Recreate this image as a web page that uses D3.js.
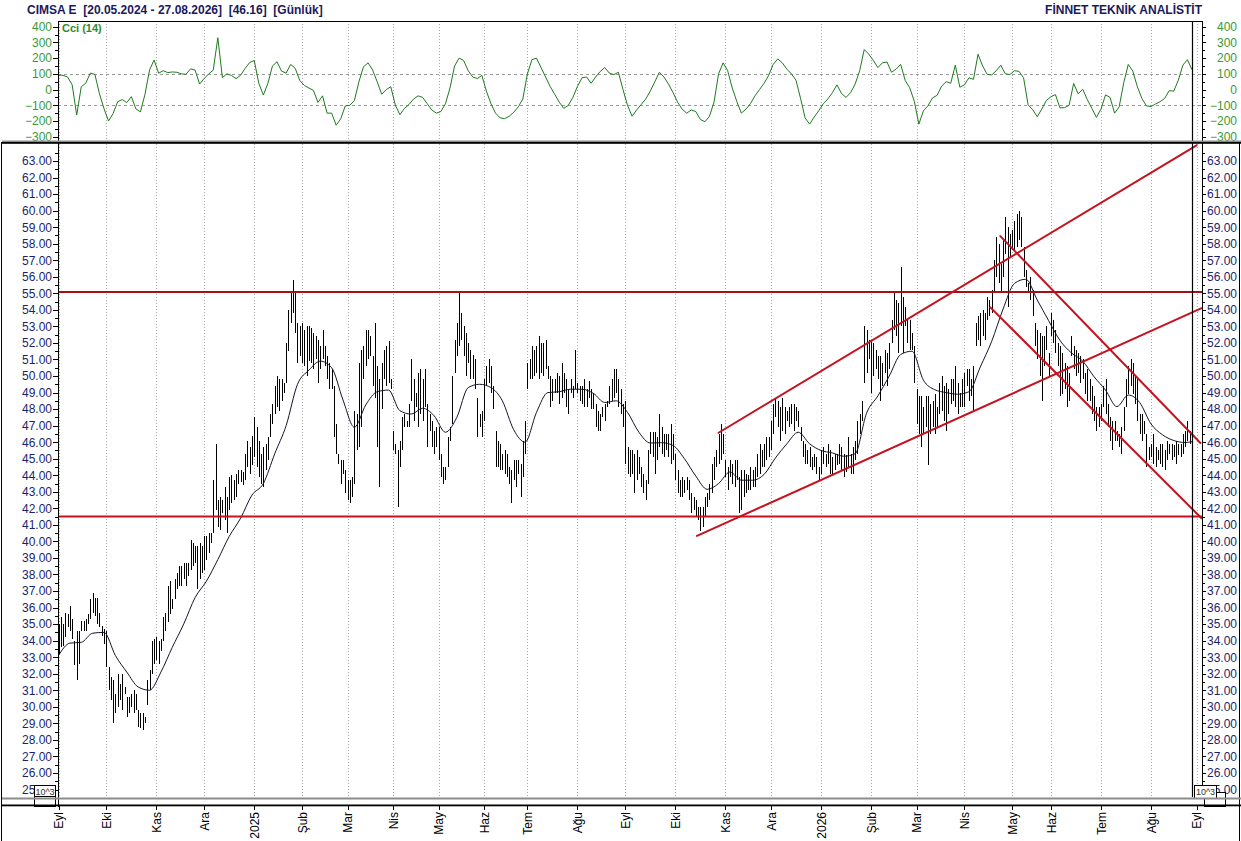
<!DOCTYPE html>
<html>
<head>
<meta charset="utf-8">
<script src="https://cdn.jsdelivr.net/npm/d3@7"></script>
<style>
  html, body { margin: 0; padding: 0; background: #fff; }
  svg { display: block; font-family: "Liberation Sans", Arial, sans-serif; }
</style>
</head>
<body>
<div id="chart"></div>
<script>
// ---- data ----
const title = "CIMSA E  [20.05.2024 - 27.08.2026]  [46.16]  [Günlük]";
const vendor = "FİNNET TEKNİK ANALİSTİT";

// month labels and the bar index where each month starts
const monthLabels = ["Eyl","Eki","Kas","Ara","2025","Şub","Mar","Nis","May","Haz","Tem","Ağu",
                     "Eyl","Eki","Kas","Ara","2026","Şub","Mar","Nis","May","Haz","Tem","Ağu","Eyl"];
const monthStarts = [0, 21, 43, 64, 86, 107, 127, 147, 167, 187, 206, 228,
                     249, 271, 293, 313, 335, 357, 377, 398, 419, 436, 458, 480, 500];

// daily highs, one line per month
const highs = [
  35.0,35.4,35.0,35.7,35.6,36.1,35.3,34.0,34.6,34.6,35.2,35.2,35.3,35.6,36.5,36.9,36.6,36.6,35.7,34.9,34.7,
  34.6,32.4,31.8,31.6,30.8,32.0,31.4,32.0,31.2,30.6,30.6,30.8,31.0,30.8,29.8,29.6,29.6,29.4,31.6,32.2,34.0,34.1,
  34.2,34.0,34.1,35.4,35.7,37.3,37.6,36.5,37.7,38.1,38.5,38.5,38.7,38.7,38.7,40.1,39.9,39.7,39.7,39.9,39.7,
  40.3,40.3,40.5,40.5,43.7,45.9,42.5,42.7,42.5,43.3,42.7,43.9,44.0,43.7,44.1,44.3,44.3,44.2,45.3,46.1,45.7,46.4,
  47.5,46.9,46.1,45.3,45.7,45.9,46.3,47.7,48.3,49.4,50.0,49.8,49.8,49.6,52.0,54.0,55.1,55.8,55.0,53.2,53.0,
  53.2,52.8,53.0,53.0,52.9,52.6,52.4,52.2,51.8,52.8,51.8,51.2,50.8,50.4,49.4,47.1,45.3,44.9,44.9,44.3,
  43.7,43.7,43.9,47.9,47.7,50.8,51.6,51.8,52.8,52.8,52.4,51.2,53.2,50.6,49.8,50.8,51.6,51.8,52.1,49.8,
  46.7,45.9,45.5,46.1,47.5,47.7,47.3,48.3,51.0,49.8,49.0,50.2,50.4,49.8,50.4,48.3,47.7,47.3,46.7,46.9,
  46.9,45.3,44.5,44.5,46.3,46.9,50.0,52.2,53.2,55.0,53.8,53.0,52.6,52.0,51.6,51.3,51.0,48.7,47.7,47.9,
  49.8,50.6,51.0,50.6,49.4,46.7,46.1,45.9,45.3,45.5,45.3,44.5,44.3,44.9,44.9,44.9,44.7,46.1,47.3,
  50.8,51.0,51.8,51.6,51.8,52.4,52.0,52.0,52.2,50.6,50.0,49.8,49.8,50.2,50.0,50.8,50.2,49.8,49.2,49.8,49.4,51.6,
  49.6,49.4,49.4,49.8,49.2,49.7,49.2,49.0,48.3,47.9,47.7,48.1,48.3,48.5,49.4,49.8,50.4,50.4,49.8,49.2,48.3,
  48.5,45.7,45.5,45.5,45.3,45.5,45.1,44.5,44.1,43.7,45.5,46.6,46.6,46.6,46.3,47.7,46.9,46.5,46.5,46.5,47.1,46.5,
  45.3,44.3,43.7,43.9,43.7,43.9,43.7,42.9,42.7,42.5,42.1,42.1,42.1,42.7,42.9,43.5,44.7,45.1,45.5,46.5,47.1,46.5,
  44.9,44.5,44.9,44.7,44.9,44.9,43.9,44.3,44.3,44.1,44.0,44.5,44.3,44.5,45.3,45.9,45.5,45.9,46.3,46.3,
  47.3,48.3,48.7,48.5,48.1,48.7,48.1,47.9,48.1,48.3,48.3,48.1,47.9,46.9,46.1,45.9,45.5,45.7,45.1,45.3,45.1,44.5,
  45.5,45.7,45.3,45.9,45.5,45.1,45.3,45.3,45.9,45.7,45.3,45.2,46.3,45.3,45.7,46.1,47.3,47.7,48.5,53.0,52.8,52.2,
  52.2,52.0,51.6,51.2,51.2,50.8,51.6,51.4,52.0,53.4,55.0,54.6,54.4,56.6,54.8,54.2,53.4,53.4,52.6,51.8,
  49.2,48.8,48.8,48.1,48.8,48.8,48.3,48.5,48.9,48.1,49.6,50.0,49.4,49.6,49.2,49.8,49.8,50.6,49.6,49.0,49.8,
  50.2,50.4,50.4,49.8,50.6,53.2,53.6,53.8,54.0,53.8,54.8,54.6,55.2,57.0,58.4,58.0,56.8,58.2,59.6,59.0,58.6,
  58.8,59.4,59.8,60.0,59.6,57.8,56.4,55.6,56.0,55.2,53.2,52.8,52.6,52.4,52.4,53.0,51.4,
  53.8,53.4,52.8,52.0,51.8,51.4,50.8,50.6,50.2,52.4,51.8,51.6,51.4,51.2,51.0,50.2,50.4,49.8,49.4,48.8,48.1,48.1,
  48.3,49.4,49.8,48.3,47.5,47.3,47.3,46.7,46.5,46.9,48.1,49.8,50.6,51.0,50.8,50.0,49.8,47.7,47.7,47.3,46.5,45.7,
  45.9,46.5,45.7,45.5,45.9,45.9,45.5,46.1,45.9,45.9,45.8,46.1,45.9,45.9,46.5,46.7,47.3,46.7,46.9
];

// daily lows, one line per month
const lows = [
  33.2,33.6,33.7,34.2,34.8,34.6,34.1,32.5,31.6,32.6,34.6,34.6,34.6,35.0,35.3,35.7,35.5,35.0,34.8,34.3,33.8,
  32.4,31.0,30.4,29.0,29.6,30.0,30.4,29.8,30.8,29.4,29.6,30.0,29.6,29.8,28.8,28.7,28.6,29.0,30.1,31.0,32.0,32.6,
  32.8,32.6,33.4,34.0,34.6,35.1,35.6,35.9,36.5,37.1,37.3,37.3,37.7,37.3,37.9,38.3,38.5,38.7,37.1,37.7,38.1,
  38.3,38.9,39.3,39.9,40.5,41.9,40.9,40.7,41.7,41.3,40.5,41.9,42.3,42.5,42.7,43.5,43.6,43.4,43.7,44.5,44.1,44.6,
  45.1,44.5,43.9,43.5,43.3,44.3,44.9,46.3,47.1,47.7,48.1,47.9,48.5,49.0,49.6,51.5,53.2,53.8,52.6,50.8,51.2,
  50.8,50.6,50.0,50.9,50.8,50.4,51.0,49.6,50.4,51.0,50.6,49.8,49.2,49.2,46.3,45.3,44.7,43.5,44.1,42.9,
  42.5,42.3,42.7,43.5,45.5,45.7,46.9,49.8,50.6,51.0,51.2,49.4,48.7,45.7,43.3,48.0,49.8,49.4,49.6,49.2,
  45.5,45.3,42.1,44.5,45.5,46.9,46.9,46.9,48.5,47.3,48.1,46.9,47.7,47.3,48.1,45.7,46.7,45.7,45.3,45.7,
  44.9,43.9,43.5,43.7,44.5,46.1,47.1,50.2,51.2,51.8,52.2,51.2,50.0,50.8,49.8,49.8,49.2,46.3,46.9,46.3,
  47.3,49.4,49.6,49.0,48.0,44.5,44.5,44.3,44.3,44.1,43.9,43.5,42.3,43.7,43.3,44.1,42.7,43.9,45.3,
  49.2,49.8,49.8,50.0,50.2,49.8,50.2,50.0,50.4,49.8,48.1,48.5,49.0,49.0,48.3,48.7,49.0,48.1,47.7,49.0,48.7,49.2,
  49.0,48.5,48.3,48.1,48.1,48.7,48.0,48.0,46.9,46.7,46.7,47.5,47.3,48.1,48.3,48.5,48.7,49.0,48.1,47.7,46.9,
  44.7,44.1,43.9,44.1,42.9,43.7,44.1,43.3,42.9,42.5,43.5,45.3,45.1,44.1,44.9,45.7,45.3,45.1,45.5,45.1,44.7,44.9,
  43.7,42.9,42.7,42.7,42.9,43.1,42.5,41.7,41.9,41.5,41.3,40.6,40.9,41.5,42.1,42.5,42.9,43.7,44.5,44.7,44.9,45.3,
  43.9,43.1,43.9,43.5,43.3,43.7,41.7,41.9,42.7,42.9,43.1,43.1,43.3,43.3,43.9,44.1,44.5,44.5,44.9,45.1,
  45.5,46.5,47.5,46.9,46.1,46.7,46.5,47.3,46.9,47.1,46.7,47.3,46.9,46.1,45.1,44.7,44.7,44.5,44.3,44.5,44.1,43.7,
  44.1,44.7,44.5,44.7,44.1,44.1,44.3,44.6,44.7,44.3,43.9,44.2,44.5,44.1,44.1,44.9,45.3,46.5,47.3,49.6,50.2,51.0,
  49.0,50.0,50.4,49.8,48.5,49.4,50.2,49.4,50.4,52.0,52.8,52.4,51.4,53.0,51.4,53.0,52.0,51.6,51.6,49.6,
  47.1,46.5,45.7,46.5,46.9,44.6,46.5,46.9,46.5,46.9,47.7,47.9,47.3,46.7,47.7,48.3,48.5,48.1,47.7,48.1,48.1,
  48.1,49.4,48.5,48.8,47.9,51.8,52.2,51.8,52.4,52.2,53.4,53.6,53.8,55.0,56.0,55.6,55.0,56.0,57.4,54.2,57.2,
  57.6,57.6,57.8,58.2,57.8,56.0,55.4,55.0,54.6,53.6,51.8,51.0,50.0,48.5,50.6,51.6,50.0,
  52.4,52.0,51.4,50.6,48.8,48.9,49.2,48.1,48.5,51.2,50.4,50.0,50.2,49.6,49.8,48.9,48.5,48.5,47.7,47.3,46.7,46.9,
  47.3,48.1,47.7,46.9,46.1,45.5,46.1,46.1,45.7,45.3,46.7,48.1,48.9,49.4,48.9,48.3,47.3,46.5,46.1,46.5,44.5,44.9,
  45.1,44.7,44.5,44.9,44.7,44.5,44.3,44.9,45.3,44.9,45.1,44.7,45.2,45.1,45.3,45.7,46.1,45.9,45.7
];

// moving average read every 5 bars (last value sits on the last bar)
const maStep = 5;
const maValues = [
  33.1,33.85,33.9,34.45,34.5,33.1,32.1,31.2,31.0,32.1,
  33.6,35.0,36.6,37.6,38.9,40.3,41.4,42.8,43.5,45.3,
  47.0,49.5,50.35,50.9,50.5,48.55,46.9,48.25,49.05,49.15,
  47.9,47.7,48.05,47.6,46.6,47.5,49.3,49.5,49.3,48.5,
  46.75,46.0,47.8,49.0,49.05,49.2,49.2,48.95,48.4,48.5,
  47.8,46.6,45.95,45.97,45.8,45.0,43.95,43.15,43.5,44.2,
  43.7,43.7,44.05,45.05,45.9,46.6,45.9,45.5,45.35,45.15,
  45.3,47.75,48.8,50.0,51.3,51.5,49.75,49.17,49.0,48.9,
  49.05,50.55,52.1,54.05,55.6,55.85,54.6,53.35,52.15,51.4,
  50.9,49.95,49.15,48.15,48.85,48.4,47.1,46.45,46.1,45.98,
  46.03
];

// CCI(14) read every 2 bars
const cciStep = 2;
const cciValues = [
  93,90,80,30,-162,18,41,105,96,-27,
  -122,-200,-152,-77,-64,-83,-45,-123,-142,-30,
  124,188,104,120,108,112,110,100,97,132,
  124,35,70,100,124,330,76,100,90,69,
  91,135,172,185,40,-35,40,150,177,117,
  105,160,135,58,26,10,-5,-82,-40,-150,
  -150,-227,-186,-104,-100,-70,50,145,170,125,
  50,-30,0,18,-100,-160,-120,-95,-60,-40,
  -50,-90,-130,-150,-140,-90,10,150,200,185,
  120,80,70,90,-10,-90,-150,-180,-185,-170,
  -145,-110,-60,100,190,200,140,80,20,-30,
  -80,-120,-100,-50,20,75,80,40,80,115,
  140,105,95,110,0,-100,-170,-130,-95,-60,
  -10,50,110,80,35,-20,-80,-125,-150,-130,
  -140,-190,-205,-170,-80,100,170,120,10,-75,
  -150,-125,-90,-40,0,40,90,160,195,170,
  130,100,60,-55,-180,-220,-175,-135,-90,-60,
  -20,30,-25,-50,-20,35,120,255,225,185,
  140,170,175,110,130,160,58,11,-75,-220,
  -135,-103,-53,-37,22,50,40,155,15,30,
  75,65,225,150,97,93,120,155,100,96,
  120,116,75,-97,-128,-173,-124,-70,-46,-32,
  -117,-115,-100,39,-27,2,-64,-120,-177,-125,
  -34,-50,-150,-110,43,160,117,18,-57,-104,
  -108,-92,-77,-56,-7,-10,60,156,190,126
];

const cciTicks = [400, 300, 200, 100, 0, -100, -200, -300];
const cciMinor = [350, 250, 150, 50, -50, -150, -250];
const cciLevels = [100, -100];

// support / resistance levels and trend lines (bar index, price)
const priceLevels = [
  { v: 55.08, color: "#a50f19" },
  { v: 41.5,  color: "#c8101e" }
];
const trendLines = [
  { x1: 280.5, y1: 40.33, x2: 502.2, y2: 54.1 },
  { x1: 290.0, y1: 46.57, x2: 500.0, y2: 63.95 },
  { x1: 413.8, y1: 58.46, x2: 501.7, y2: 45.95 },
  { x1: 409.4, y1: 54.15, x2: 502.2, y2: 41.4 }
];

// ---- layout ----
const W = 1241, H = 841;
const plotL = 58, plotR = 1202;
const cciTop = 21, cciBot = 141;
const mainTop = 143.5, mainBot = 797;
const lastIdx = highs.length - 1;

const navy = "#1b1f6e", green = "#3a9a3a";

const svg = d3.select("#chart").append("svg")
    .attr("width", W).attr("height", H);

const x = d3.scaleLinear().domain([0, 498]).range([58.5, 1192]);
const yCci = d3.scaleLinear().domain([-300, 400]).range([136.7, 26.7]);
const yPx = d3.scaleLinear().domain([25, 63]).range([789.5, 161]);

const defs = svg.append("defs");
defs.append("clipPath").attr("id", "clipCci").append("rect")
    .attr("x", plotL).attr("y", cciTop).attr("width", plotR - plotL).attr("height", cciBot - cciTop);
defs.append("clipPath").attr("id", "clipMain").append("rect")
    .attr("x", plotL).attr("y", mainTop).attr("width", plotR - plotL).attr("height", mainBot - mainTop);

// vertical month gridlines
svg.append("g").selectAll("line")
    .data(monthStarts)
  .enter().append("line")
    .attr("x1", d => Math.round(x(d)) + 0.5).attr("x2", d => Math.round(x(d)) + 0.5)
    .attr("y1", cciTop).attr("y2", mainBot)
    .attr("stroke", "#a8a8a8").attr("stroke-width", 1)
    .attr("stroke-dasharray", "1,2")
    .attr("shape-rendering", "crispEdges");

// ---- CCI panel ----
svg.append("g").selectAll("line")
    .data(cciLevels)
  .enter().append("line")
    .attr("x1", plotL).attr("x2", plotR)
    .attr("y1", d => Math.round(yCci(d)) + 0.5).attr("y2", d => Math.round(yCci(d)) + 0.5)
    .attr("stroke", "#9a9a9a").attr("stroke-dasharray", "3,3")
    .attr("shape-rendering", "crispEdges");

const cciLine = d3.line()
    .x((d, k) => x(Math.min(k * cciStep, lastIdx)))
    .y(d => yCci(d));

svg.append("path")
    .datum(cciValues)
    .attr("clip-path", "url(#clipCci)")
    .attr("fill", "none")
    .attr("stroke", "#1f7a1f")
    .attr("stroke-width", 1)
    .attr("stroke-linejoin", "round")
    .attr("d", cciLine);

svg.append("text")
    .attr("x", 62).attr("y", 32)
    .attr("fill", "#2e8b2e")
    .attr("font-size", 11).attr("font-weight", "bold")
    .text("Cci (14)");

// ---- price panel ----
const bars = highs.map((h, i) => ({ i, h, l: lows[i] }));

svg.append("g")
    .attr("clip-path", "url(#clipMain)")
  .selectAll("line")
    .data(bars)
  .enter().append("line")
    .attr("x1", d => Math.round(x(d.i)) + 0.5)
    .attr("x2", d => Math.round(x(d.i)) + 0.5)
    .attr("y1", d => yPx(d.h))
    .attr("y2", d => Math.max(yPx(d.l), yPx(d.h) + 1))
    .attr("stroke", "#000")
    .attr("stroke-width", 1)
    .attr("shape-rendering", "crispEdges");

const maLine = d3.line()
    .x((d, k) => x(Math.min(k * maStep, lastIdx)))
    .y(d => yPx(d))
    .curve(d3.curveMonotoneX);

svg.append("path")
    .datum(maValues)
    .attr("clip-path", "url(#clipMain)")
    .attr("fill", "none")
    .attr("stroke", "#14142a")
    .attr("stroke-width", 1)
    .attr("d", maLine);

const lines = svg.append("g").attr("clip-path", "url(#clipMain)");

lines.selectAll(".lvl")
    .data(priceLevels)
  .enter().append("line")
    .attr("class", "lvl")
    .attr("x1", plotL).attr("x2", plotR)
    .attr("y1", d => yPx(d.v)).attr("y2", d => yPx(d.v))
    .attr("stroke", d => d.color)
    .attr("stroke-width", 2);

lines.selectAll(".trend")
    .data(trendLines)
  .enter().append("line")
    .attr("class", "trend")
    .attr("x1", d => x(d.x1)).attr("y1", d => yPx(d.y1))
    .attr("x2", d => x(d.x2)).attr("y2", d => yPx(d.y2))
    .attr("stroke", "#c4121f")
    .attr("stroke-width", 2)
    .attr("stroke-linecap", "round");

// cursor on the last bar
svg.append("line")
    .attr("x1", Math.round(x(lastIdx)) + 0.5).attr("x2", Math.round(x(lastIdx)) + 0.5)
    .attr("y1", cciTop).attr("y2", mainBot)
    .attr("stroke", "#000").attr("stroke-width", 1.2);

// ---- axes ----
function styleAxis(g, color) {
  g.select(".domain").remove();
  g.selectAll("line").attr("stroke", "#000").attr("shape-rendering", "crispEdges");
  g.selectAll("text").attr("fill", color).attr("font-size", 12)
    .attr("font-family", "\"Liberation Sans\", Arial, sans-serif");
}

const priceTicks = d3.range(25, 64, 1);
const priceMinor = d3.range(25.5, 64, 1);
const fmt = d3.format(".2f");

// left price axis
svg.append("g").attr("transform", `translate(${plotL},0)`)
    .call(d3.axisLeft(yPx).tickValues(priceTicks).tickFormat(fmt).tickSize(5).tickPadding(1))
    .call(g => styleAxis(g, navy));
svg.append("g").attr("transform", `translate(${plotL},0)`)
    .call(d3.axisLeft(yPx).tickValues(priceMinor).tickFormat("").tickSize(3))
    .call(g => styleAxis(g, navy));

// right price axis (labels right aligned)
svg.append("g").attr("transform", `translate(${plotR},0)`)
    .call(d3.axisRight(yPx).tickValues(priceTicks).tickFormat(fmt).tickSize(4).tickPadding(0))
    .call(g => styleAxis(g, navy))
    .call(g => g.selectAll("text").attr("text-anchor", "end").attr("x", 1237 - plotR));
svg.append("g").attr("transform", `translate(${plotR},0)`)
    .call(d3.axisRight(yPx).tickValues(priceMinor).tickFormat("").tickSize(3))
    .call(g => styleAxis(g, navy));

// CCI axes
svg.append("g").attr("transform", `translate(${plotL},0)`)
    .call(d3.axisLeft(yCci).tickValues(cciTicks).tickSize(5).tickPadding(1))
    .call(g => styleAxis(g, green));
svg.append("g").attr("transform", `translate(${plotL},0)`)
    .call(d3.axisLeft(yCci).tickValues(cciMinor).tickFormat("").tickSize(3))
    .call(g => styleAxis(g, green));
svg.append("g").attr("transform", `translate(${plotR},0)`)
    .call(d3.axisRight(yCci).tickValues(cciTicks).tickSize(4).tickPadding(0))
    .call(g => styleAxis(g, green))
    .call(g => g.selectAll("text").attr("text-anchor", "end").attr("x", 1237 - plotR));
svg.append("g").attr("transform", `translate(${plotR},0)`)
    .call(d3.axisRight(yCci).tickValues(cciMinor).tickFormat("").tickSize(3))
    .call(g => styleAxis(g, green));

// month axis at the bottom, labels rotated
svg.append("g").attr("transform", "translate(0,806)")
    .call(d3.axisBottom(x).tickValues(monthStarts).tickFormat((d, i) => monthLabels[i]).tickSize(4))
    .call(g => styleAxis(g, "#000"))
    .call(g => g.selectAll("text")
        .attr("transform", "rotate(-90)")
        .attr("text-anchor", "end")
        .attr("x", -6).attr("y", 0).attr("dy", "0.35em"));

// ---- frame ----
const frame = svg.append("g").attr("stroke", "#000").attr("shape-rendering", "crispEdges");
frame.append("line").attr("x1", plotL).attr("x2", plotR + 1).attr("y1", cciTop + 0.5).attr("y2", cciTop + 0.5);
frame.append("line").attr("x1", plotL + 0.5).attr("x2", plotL + 0.5).attr("y1", cciTop).attr("y2", 807);
frame.append("line").attr("x1", plotR + 0.5).attr("x2", plotR + 0.5).attr("y1", cciTop).attr("y2", mainBot);
frame.append("line").attr("x1", 1.5).attr("x2", 1.5).attr("y1", 142).attr("y2", H);
frame.append("line").attr("x1", 1239.5).attr("x2", 1239.5).attr("y1", 142).attr("y2", H);

// "10^3" boxes (the rear ones are hidden behind the front ones)
function box(bx, by, bw, bh, label) {
  svg.append("rect").attr("x", bx + 0.5).attr("y", by + 0.5).attr("width", bw).attr("height", bh)
      .attr("fill", "#fff").attr("stroke", "#000").attr("shape-rendering", "crispEdges");
  if (label) {
    svg.append("text").attr("x", bx + bw / 2 + 0.5).attr("y", by + 9.5)
        .attr("text-anchor", "middle").attr("font-size", 9).attr("fill", "#333").text("10^3");
  }
}
box(34, 796, 21, 10, false);
box(34, 785, 21, 11, true);
box(1204, 792, 21, 14, false);
box(1194, 785, 22, 13, true);

// panel separators
svg.append("rect").attr("x", 2).attr("y", 140.5).attr("width", W - 2).attr("height", 1.5).attr("fill", "#8c8c8c");
svg.append("rect").attr("x", 2).attr("y", 142).attr("width", W - 2).attr("height", 1.8).attr("fill", "#000");
svg.append("rect").attr("x", 2).attr("y", 797.5).attr("width", W - 2).attr("height", 2).attr("fill", "#8c8c8c");
svg.append("rect").attr("x", 2).attr("y", 804.5).attr("width", W - 2).attr("height", 1.8).attr("fill", "#000");

// ---- header ----
svg.append("text")
    .attr("x", 27).attr("y", 14)
    .attr("fill", "#1a1a5e").attr("font-size", 12).attr("font-weight", "bold")
    .attr("xml:space", "preserve")
    .style("white-space", "pre")
    .text(title);

svg.append("text")
    .attr("x", 1202).attr("y", 14)
    .attr("text-anchor", "end")
    .attr("fill", "#1a1a5e").attr("font-size", 12).attr("font-weight", "bold")
    .text(vendor);
</script>
</body>
</html>
